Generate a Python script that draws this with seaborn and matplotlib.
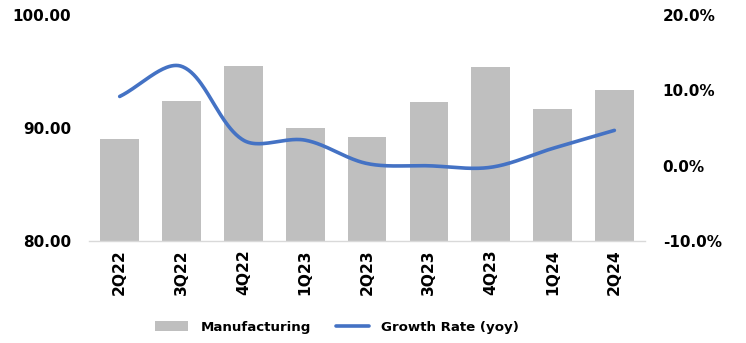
import numpy as np
import pandas as pd
import matplotlib
matplotlib.use("Agg")
import matplotlib.pyplot as plt
import seaborn as sns
from matplotlib.patches import Patch
from matplotlib.lines import Line2D

quarters = ["2Q22", "3Q22", "4Q22", "1Q23", "2Q23", "3Q23", "4Q23", "1Q24", "2Q24"]
manufacturing = [89.0, 92.4, 95.5, 90.0, 89.2, 92.3, 95.4, 91.7, 93.4]
growth_pct = [9.2, 13.2, 3.4, 3.4, 0.3, 0.0, -0.2, 2.3, 4.7]
left_ticks = [80, 90, 100]
right_ticks = [-10, 0, 10, 20]

sns.set_theme(style="white")
plt.rcParams["font.family"] = ["DejaVu Sans"]
plt.rcParams["text.color"] = "black"
plt.rcParams["xtick.color"] = "black"
plt.rcParams["ytick.color"] = "black"

BAR_COLOR = "#BFBFBF"
LINE_COLOR = "#4472C4"

fig = plt.figure(figsize=(7.46, 3.43), dpi=100)
ax = fig.add_axes([0.119, 0.297, 0.746, 0.659])

df = pd.DataFrame({"Quarter": quarters, "Manufacturing": manufacturing})
sns.barplot(data=df, x="Quarter", y="Manufacturing", color=BAR_COLOR,
            saturation=1, width=0.625, ax=ax, linewidth=0)
ax.set_ylim(80, 100)
ax.set_xlim(-0.5, len(quarters) - 0.5)
ax.set_yticks(left_ticks)
ax.set_yticklabels([f"{v:.2f}" for v in left_ticks], fontsize=11, fontweight="bold")
ax.set_xlabel("")
ax.set_ylabel("")
ax.tick_params(axis="x", rotation=90, length=0, pad=6)
for lbl in ax.get_xticklabels():
    lbl.set_fontweight("bold")
    lbl.set_fontsize(11.2)
ax.tick_params(axis="y", length=0, pad=12.5)
for s in ["top", "left", "right"]:
    ax.spines[s].set_visible(False)
ax.spines["bottom"].set_color("#D9D9D9")
ax.spines["bottom"].set_linewidth(1.0)
ax.grid(False)

# Smoothed line: Bezier through the data points, control arms scaled by
# neighbouring segment lengths in screen space (like Excel's smoothed line)
ax2 = ax.twinx()
ax2.set_ylim(-10, 20)
fig.canvas.draw()
x = np.arange(len(quarters), dtype=float)
y = np.array(growth_pct, dtype=float)
S = ax2.transData.transform(np.column_stack([x, y]))
n = len(S)
Sext = np.vstack([S[0], S, S[-1]])
fwd, back = [], []
for i in range(n):
    pm, p, pp = Sext[i], Sext[i + 1], Sext[i + 2]
    T = pp - pm
    db = np.hypot(*(p - pm))
    df_ = np.hypot(*(pp - p))
    tot = db + df_ if db + df_ > 0 else 1.0
    fwd.append(p + T * (df_ / tot) / 3.0)
    back.append(p - T * (db / tot) / 3.0)
t = np.linspace(0, 1, 50)[:, None]
pts = []
for i in range(n - 1):
    p1, p2 = S[i], S[i + 1]
    c1, c2 = fwd[i], back[i + 1]
    seg = ((1 - t) ** 3) * p1 + 3 * ((1 - t) ** 2) * t * c1 + 3 * (1 - t) * t ** 2 * c2 + t ** 3 * p2
    pts.append(seg if i == 0 else seg[1:])
pts = np.vstack(pts)
curve = ax2.transData.inverted().transform(pts)
ax2.plot(curve[:, 0], curve[:, 1], color=LINE_COLOR, linewidth=2.6, solid_capstyle="round")
ax2.set_ylim(-10, 20)
ax2.set_yticks(right_ticks)
ax2.set_yticklabels([f"{v:.1f}%" for v in right_ticks], fontsize=11, fontweight="bold")
ax2.tick_params(axis="y", length=0, pad=12.5)
for s in ["top", "left", "right", "bottom"]:
    ax2.spines[s].set_visible(False)
ax2.grid(False)

handles = [Patch(facecolor=BAR_COLOR, edgecolor="none"),
           Line2D([0], [0], color=LINE_COLOR, linewidth=2.6)]
leg = fig.legend(handles, ["Manufacturing", "Growth Rate (yoy)"], loc="center",
                 bbox_to_anchor=(0.452, 0.046), ncol=2, frameon=False,
                 prop={"size": 9.6, "weight": "bold"}, handlelength=2.5,
                 handleheight=0.75, handletextpad=0.9, columnspacing=1.9)

fig.savefig("out.png", dpi=100)
